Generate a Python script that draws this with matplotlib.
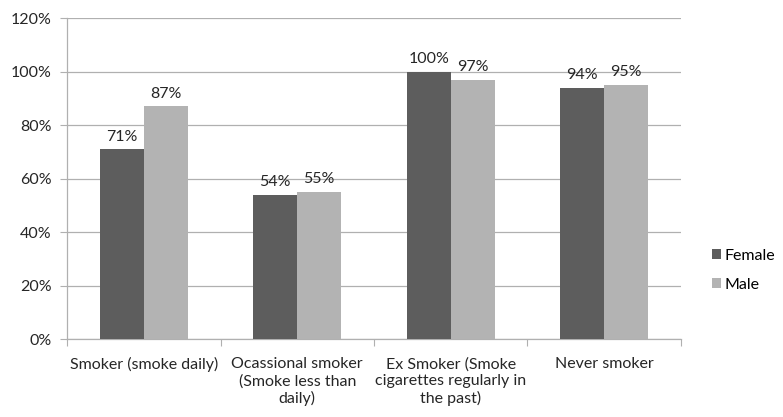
import matplotlib.pyplot as plt
import numpy as np
from matplotlib.ticker import FuncFormatter

plt.rcParams["font.family"] = ["Lato", "DejaVu Sans"]

categories = [
    "Smoker (smoke daily)",
    "Ocassional smoker\n(Smoke less than\ndaily)",
    "Ex Smoker (Smoke\ncigarettes regularly in\nthe past)",
    "Never smoker",
]
female = [71, 54, 100, 94]
male = [87, 55, 97, 95]

female_color = "#5d5d5d"
male_color = "#b3b3b3"
grid_color = "#b0b0b0"
text_color = "#262626"
fs = 11.5

fig = plt.figure(figsize=(7.83, 4.17), dpi=100)
ax = fig.add_axes([0.0856, 0.187, 0.7841, 0.7698])

x = np.arange(len(categories))
w = 1 / 3.5
ax.bar(x - w / 2, female, w, color=female_color, label="Female", zorder=3)
ax.bar(x + w / 2, male, w, color=male_color, label="Male", zorder=3)

for xi, f, m in zip(x, female, male):
    ax.annotate(f"{f}%", (xi - w / 2, f), xytext=(0, 4), textcoords="offset points",
                ha="center", va="bottom", fontsize=fs, color=text_color)
    ax.annotate(f"{m}%", (xi + w / 2, m), xytext=(0, 4), textcoords="offset points",
                ha="center", va="bottom", fontsize=fs, color=text_color)

ax.set_xlim(-0.5, len(categories) - 0.5)
ax.set_ylim(0, 120)
ax.set_yticks(range(0, 121, 20))
ax.yaxis.set_major_formatter(FuncFormatter(lambda v, _: f"{v:.0f}%"))
ax.grid(axis="y", color=grid_color, linewidth=0.9, zorder=0)

# category labels centred under each group, ticks at the group borders
ax.set_xticks(np.arange(-0.5, len(categories)), minor=False)
ax.set_xticklabels([])
ax.set_xticks(x, minor=True)
ax.set_xticklabels(categories, minor=True, fontsize=fs, color=text_color,
                   linespacing=1.25, va="top")
ax.tick_params(axis="x", which="minor", length=0, pad=13)
ax.tick_params(axis="x", which="major", length=5, color=grid_color, direction="out")
ax.tick_params(axis="y", length=5, color=grid_color, labelsize=fs,
               labelcolor=text_color, pad=6)

for side in ("top", "right"):
    ax.spines[side].set_visible(False)
for side in ("left", "bottom"):
    ax.spines[side].set_color(grid_color)
    ax.spines[side].set_linewidth(0.9)

fig.legend(loc="center left", bbox_to_anchor=(0.891, 0.352), frameon=False,
           fontsize=fs, handlelength=0.55, handleheight=0.55, handletextpad=0.2,
           labelspacing=0.95)

fig.savefig("out.png", dpi=100)
